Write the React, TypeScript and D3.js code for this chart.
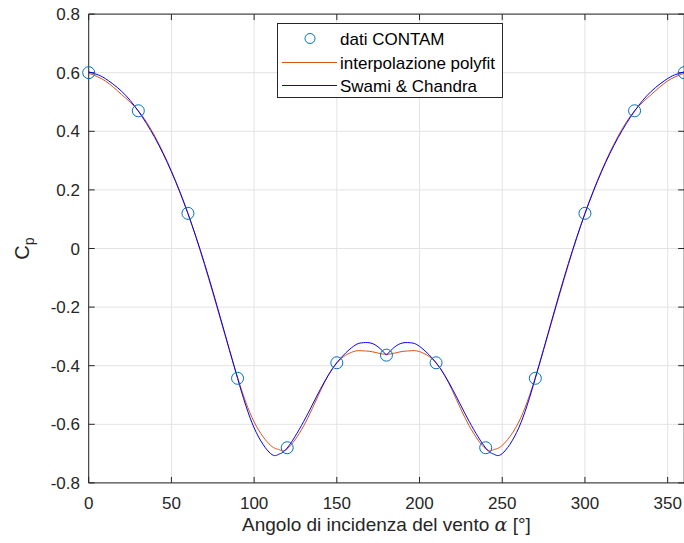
import React from "react";
import * as d3 from "d3";

// Measured pressure coefficients (CONTAM), every 30°
const contamAngles = [0, 30, 60, 90, 120, 150, 180, 210, 240, 270, 300, 330, 360];
const contamCp = [0.6, 0.47, 0.12, -0.443, -0.68, -0.39, -0.364, -0.39, -0.68, -0.443, 0.12, 0.47, 0.6];

// Polynomial fit curve samples
const polyAngles = [0, 10, 20, 30, 40, 50, 60, 70, 80, 90, 100, 110, 115, 120, 130, 140, 150, 160, 165, 170, 175, 180,
  185, 190, 195, 200, 210, 220, 230, 240, 245, 250, 260, 270, 280, 290, 300, 310, 320, 330, 340, 350, 360];
const polyCp = [0.598, 0.572, 0.525, 0.47, 0.383, 0.265, 0.12, -0.055, -0.248, -0.44, -0.592, -0.672, -0.686, -0.684, -0.605, -0.487, -0.39, -0.352, -0.349, -0.351, -0.357, -0.361,
  -0.357, -0.351, -0.349, -0.352, -0.39, -0.487, -0.605, -0.684, -0.686, -0.672, -0.592, -0.44, -0.248, -0.055, 0.12, 0.265, 0.383, 0.47, 0.525, 0.572, 0.598];

// Swami & Chandra curve samples, left half (0–180°) and right half (180–360°)
const swamiAnglesA = [0, 5, 10, 20, 30, 40, 50, 60, 70, 80, 90, 100, 110, 115, 120, 130, 140, 150, 160, 165, 170, 175, 180];
const swamiCpA = [0.603, 0.594, 0.58, 0.536, 0.469, 0.378, 0.262, 0.119, -0.051, -0.244, -0.443, -0.612, -0.7, -0.702, -0.681, -0.59, -0.481, -0.39, -0.334, -0.322, -0.322, -0.336, -0.364];
const swamiAnglesB = [180, 185, 190, 195, 200, 210, 220, 230, 240, 245, 250, 260, 270, 280, 290, 300, 310, 320, 330, 340, 350, 355, 360];
const swamiCpB = [-0.364, -0.336, -0.322, -0.322, -0.334, -0.39, -0.481, -0.59, -0.681, -0.702, -0.7, -0.612, -0.443, -0.244, -0.051, 0.119, 0.262, 0.378, 0.469, 0.536, 0.58, 0.594, 0.603];

const xTicks = [0, 50, 100, 150, 200, 250, 300, 350];
const yTicks = [0.8, 0.6, 0.4, 0.2, 0, -0.2, -0.4, -0.6, -0.8];

const W = 684;
const H = 543;
const left = 88.7;
const right = 684.2;
const top = 14.1;
const bottom = 482.9;

const FONT = "'Liberation Sans', Arial, Helvetica, sans-serif";
const C_DATA = "#0072BD";
const C_POLY = "#D95319";
const C_SWAMI = "#0000FF";
const AXIS = "#262626";
const GRID = "#e3e3e3";

export default function App() {
  const x = d3.scaleLinear().domain([0, 360]).range([left, right]);
  const y = d3.scaleLinear().domain([-0.8, 0.8]).range([bottom, top]);

  const line = d3
    .line<[number, number]>()
    .x((d) => x(d[0]))
    .y((d) => y(d[1]))
    .curve(d3.curveNatural);

  const polyPath = line(polyAngles.map((a, i) => [a, polyCp[i]]));
  const swamiPathA = line(swamiAnglesA.map((a, i) => [a, swamiCpA[i]]));
  const swamiPathB = line(swamiAnglesB.map((a, i) => [a, swamiCpB[i]]));

  const fmtY = (v: number) => (v === 0 ? "0" : v.toFixed(1));

  // legend geometry
  const lgX = 277.5;
  const lgY = 23.5;
  const lgW = 225;
  const lgH = 74;
  const rows = [38.5, 62.5, 85.5];

  return (
    <svg
      width={W}
      height={H}
      style={{ position: "absolute", left: 0, top: 0, background: "#fff" }}
      fontFamily={FONT}
    >
      <rect x={0} y={0} width={W} height={H} fill="#fff" />

      {/* grid */}
      {xTicks.map((t) => (
        <line key={"gx" + t} x1={x(t)} x2={x(t)} y1={top} y2={bottom} stroke={GRID} strokeWidth={1} />
      ))}
      {yTicks.map((t) => (
        <line key={"gy" + t} x1={left} x2={right} y1={y(t)} y2={y(t)} stroke={GRID} strokeWidth={1} />
      ))}

      {/* axes box */}
      <line x1={left} x2={right} y1={top} y2={top} stroke={AXIS} strokeWidth={1} />
      <line x1={left} x2={right} y1={bottom} y2={bottom} stroke={AXIS} strokeWidth={1} />
      <line x1={left} x2={left} y1={top} y2={bottom} stroke={AXIS} strokeWidth={1} />
      <line x1={right} x2={right} y1={top} y2={bottom} stroke={AXIS} strokeWidth={1} />

      {/* ticks */}
      {xTicks.map((t) => (
        <g key={"tx" + t}>
          <line x1={x(t)} x2={x(t)} y1={bottom} y2={bottom - 6} stroke={AXIS} strokeWidth={1} />
          <line x1={x(t)} x2={x(t)} y1={top} y2={top + 6} stroke={AXIS} strokeWidth={1} />
          <text x={x(t)} y={508.5} textAnchor="middle" fontSize={17} fill={AXIS}>
            {t}
          </text>
        </g>
      ))}
      {yTicks.map((t) => (
        <g key={"ty" + t}>
          <line x1={left} x2={left + 6} y1={y(t)} y2={y(t)} stroke={AXIS} strokeWidth={1} />
          <line x1={right} x2={right - 6} y1={y(t)} y2={y(t)} stroke={AXIS} strokeWidth={1} />
          <text x={80} y={y(t) + 6} textAnchor="end" fontSize={17} fill={AXIS}>
            {fmtY(t)}
          </text>
        </g>
      ))}

      {/* curves */}
      <path d={polyPath ?? ""} fill="none" stroke={C_POLY} strokeWidth={1} />
      <path d={swamiPathA ?? ""} fill="none" stroke={C_SWAMI} strokeWidth={1} />
      <path d={swamiPathB ?? ""} fill="none" stroke={C_SWAMI} strokeWidth={1} />

      {/* data markers */}
      {contamAngles.map((a, i) => (
        <circle key={"m" + a} cx={x(a)} cy={y(contamCp[i])} r={6} fill="none" stroke={C_DATA} strokeWidth={1} />
      ))}

      {/* legend */}
      <rect x={lgX} y={lgY} width={lgW} height={lgH} fill="#fff" stroke={AXIS} strokeWidth={1} />
      <circle cx={310} cy={rows[0]} r={5} fill="none" stroke={C_DATA} strokeWidth={1} />
      <line x1={282} x2={337} y1={rows[1]} y2={rows[1]} stroke={C_POLY} strokeWidth={1} />
      <line x1={282} x2={337} y1={rows[2]} y2={rows[2]} stroke={C_SWAMI} strokeWidth={1} />
      <text x={340} y={rows[0] + 6} fontSize={17} fill="#000">dati CONTAM</text>
      <text x={340} y={rows[1] + 6} fontSize={17} fill="#000">interpolazione polyfit</text>
      <text x={340} y={rows[2] + 6} fontSize={17} fill="#000">Swami &amp; Chandra</text>

      {/* axis labels */}
      <text x={(left + right) / 2} y={531} textAnchor="middle" fontSize={19} fill={AXIS}>
        Angolo di incidenza del vento{" "}
        <tspan fontFamily="'DejaVu Serif', 'Liberation Serif', serif" fontStyle="italic">
          α
        </tspan>{" "}
        [°]
      </text>
      <text transform={`translate(29, ${y(0)}) rotate(-90)`} textAnchor="middle" fontSize={20} fill={AXIS}>
        C
        <tspan fontSize={14} dy={5}>
          p
        </tspan>
      </text>
    </svg>
  );
}
